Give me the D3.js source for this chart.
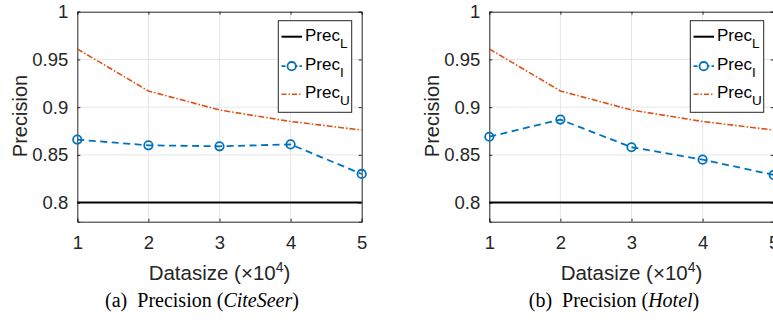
<!DOCTYPE html>
<html>
<head>
<meta charset="utf-8">
<script src="https://cdn.jsdelivr.net/npm/d3@7"></script>
<style>
  body { margin: 0; background: #fff; }
  svg { display: block; }
  .tick text { font-family: "Liberation Sans", Arial, sans-serif; }
</style>
</head>
<body>
<svg width="773" height="326"></svg>
<script>
// values
var datasize = [1, 2, 3, 4, 5];
var yTicks = [0.8, 0.85, 0.9, 0.95, 1];
var precL = [0.8, 0.8, 0.8, 0.8, 0.8];
var precU = [0.961, 0.917, 0.897, 0.885, 0.876];
var precICiteSeer = [0.866, 0.860, 0.859, 0.861, 0.830];
var precIHotel = [0.869, 0.887, 0.858, 0.845, 0.829];

var panels = [
    {letter: "(a)", name: "CiteSeer", precI: precICiteSeer, dx: 0},
    {letter: "(b)", name: "Hotel", precI: precIHotel, dx: 412}
];

var svg = d3.select("svg");
var sans = "'Liberation Sans', Arial, Helvetica, sans-serif";
var axisColor = "#262626";

var x = d3.scaleLinear().domain([1, 5]).range([77.3, 361.7]);
var y = d3.scaleLinear().domain([0.78, 1]).range([221.7, 11.7]);

var line = d3.line()
    .x((d, i) => x(datasize[i]))
    .y(d => y(d));

panels.forEach(p => {
    var g = svg.append("g").attr("transform", "translate(" + p.dx + ",0)");

    // grid
    g.append("g").selectAll("line")
        .data(datasize.slice(1, -1))
        .enter().append("line")
        .attr("x1", d => x(d)).attr("x2", d => x(d))
        .attr("y1", y.range()[0]).attr("y2", y.range()[1])
        .attr("stroke", "#e6e6e6").attr("stroke-width", 1);
    g.append("g").selectAll("line")
        .data(yTicks.slice(0, -1))
        .enter().append("line")
        .attr("x1", x.range()[0]).attr("x2", x.range()[1])
        .attr("y1", d => y(d)).attr("y2", d => y(d))
        .attr("stroke", "#e6e6e6").attr("stroke-width", 1);

    // axes, ticks pointing inward, box on
    g.append("g")
        .attr("transform", "translate(0," + y.range()[0] + ")")
        .call(d3.axisBottom(x).tickValues(datasize).tickSize(-3).tickPadding(14).tickFormat(d3.format("d")));
    g.append("g")
        .attr("transform", "translate(" + x.range()[0] + ",0)")
        .call(d3.axisLeft(y).tickValues(yTicks).tickSize(-3).tickPadding(9).tickFormat(d => d === 1 ? "1" : d3.format("")(d)));
    g.append("g")
        .attr("transform", "translate(0," + y.range()[1] + ")")
        .call(d3.axisTop(x).tickValues(datasize).tickSize(-3).tickFormat(""));
    g.append("g")
        .attr("transform", "translate(" + x.range()[1] + ",0)")
        .call(d3.axisRight(y).tickValues(yTicks).tickSize(-3).tickFormat(""));

    g.selectAll(".domain").attr("stroke", axisColor).attr("stroke-width", 1);
    g.selectAll(".tick line").attr("stroke", axisColor);
    g.selectAll(".tick text").attr("fill", axisColor).attr("font-size", 18.5);

    // series
    g.append("path").datum(precL).attr("d", line)
        .attr("fill", "none").attr("stroke", "#000").attr("stroke-width", 2);
    g.append("path").datum(precU).attr("d", line)
        .attr("fill", "none").attr("stroke", "#D95319").attr("stroke-width", 1.6)
        .attr("stroke-dasharray", "6,2,1.5,2");
    g.append("path").datum(p.precI).attr("d", line)
        .attr("fill", "none").attr("stroke", "#0072BD").attr("stroke-width", 1.8)
        .attr("stroke-dasharray", "7,4.5");
    g.selectAll("circle.m").data(p.precI).enter().append("circle")
        .attr("cx", (d, i) => x(datasize[i])).attr("cy", d => y(d))
        .attr("r", 4.2).attr("fill", "none")
        .attr("stroke", "#0072BD").attr("stroke-width", 1.8);

    // labels
    g.append("text")
        .attr("transform", "translate(20,116) rotate(-90)")
        .attr("text-anchor", "middle").attr("dominant-baseline", "central")
        .attr("font-family", sans).attr("font-size", 20).attr("fill", axisColor)
        .text("Precision");
    var xl = g.append("text")
        .attr("x", 219.5).attr("y", 280)
        .attr("text-anchor", "middle")
        .attr("font-family", sans).attr("font-size", 20.5).attr("fill", axisColor);
    xl.append("tspan").text("Datasize (\u00d710");
    xl.append("tspan").attr("font-size", 14).attr("dy", -8).text("4");
    xl.append("tspan").attr("dy", 8).text(")");

    var cap = g.append("text")
        .attr("x", 202).attr("y", 307)
        .attr("text-anchor", "middle")
        .attr("font-family", "'Liberation Serif', 'Times New Roman', serif")
        .attr("font-size", 20).attr("fill", "#000");
    cap.append("tspan").text(p.letter + "\u2002Precision (");
    cap.append("tspan").attr("font-style", "italic").text(p.name);
    cap.append("tspan").text(")");

    // legend
    var lg = g.append("g");
    lg.append("rect")
        .attr("x", 278.3).attr("y", 20.7).attr("width", 73.4).attr("height", 91.6)
        .attr("fill", "#fff").attr("stroke", axisColor).attr("stroke-width", 1);
    var entries = [
        {sub: "L", color: "#000", w: 2, dash: null, marker: false},
        {sub: "I", color: "#0072BD", w: 1.8, dash: "4,2", marker: true},
        {sub: "U", color: "#D95319", w: 1.6, dash: "5,2,1.5,2", marker: false}
    ];
    var rowY = [36.7, 66.2, 94.3];
    entries.forEach((e, i) => {
        var yy = rowY[i];
        lg.append("line")
            .attr("x1", 281.5).attr("x2", 302).attr("y1", yy).attr("y2", yy)
            .attr("stroke", e.color).attr("stroke-width", e.w)
            .attr("stroke-dasharray", e.dash);
        if (e.marker) {
            lg.append("circle").attr("cx", 291.7).attr("cy", yy).attr("r", 4.2)
                .attr("fill", "#fff").attr("stroke", e.color).attr("stroke-width", 1.8);
        }
        var t = lg.append("text")
            .attr("x", 305).attr("y", yy + 4)
            .attr("font-family", sans).attr("font-size", 17).attr("fill", "#000");
        t.append("tspan").text("Prec");
        t.append("tspan").attr("font-size", 13.5).attr("dy", 7).text(e.sub);
    });
});
</script>
</body>
</html>
